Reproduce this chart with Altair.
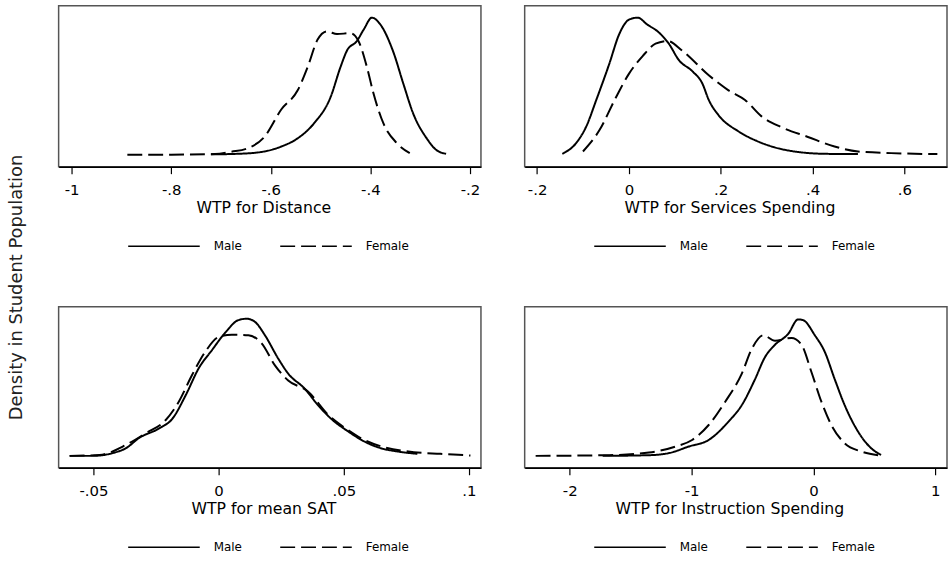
import altair as alt
import pandas as pd

FONT = "DejaVu Sans"

# ---- WTP for Distance ----
dist_m_x = [-0.72, -0.66, -0.613, -0.579, -0.546, -0.513, -0.48, -0.46, -0.447, -0.427, -0.413, -0.397, -0.38, -0.354, -0.334, -0.314, -0.287, -0.268, -0.248]
dist_m_y = [0.003, 0.008, 0.024, 0.06, 0.12, 0.23, 0.42, 0.64, 0.76, 0.83, 0.916, 1.0, 0.95, 0.75, 0.52, 0.30, 0.12, 0.036, 0.007]
dist_f_x = [-0.888, -0.80, -0.712, -0.679, -0.646, -0.613, -0.579, -0.546, -0.526, -0.506, -0.487, -0.467, -0.44, -0.424, -0.407, -0.394, -0.374, -0.347, -0.321]
dist_f_y = [0.0, 0.001, 0.005, 0.022, 0.048, 0.13, 0.33, 0.47, 0.64, 0.84, 0.90, 0.88, 0.887, 0.83, 0.64, 0.45, 0.23, 0.085, 0.012]

# ---- WTP for Services Spending ----
serv_m_x = [-0.145, -0.115, -0.093, -0.071, -0.043, -0.021, 0.0, 0.019, 0.040, 0.066, 0.087, 0.109, 0.138, 0.160, 0.174, 0.195, 0.239, 0.282, 0.340, 0.427, 0.499]
serv_m_y = [0.007, 0.085, 0.205, 0.40, 0.66, 0.88, 0.985, 1.0, 0.95, 0.89, 0.81, 0.69, 0.61, 0.52, 0.40, 0.29, 0.17, 0.096, 0.036, 0.007, 0.005]
serv_f_x = [-0.100, -0.064, -0.028, 0.0, 0.030, 0.058, 0.084, 0.116, 0.174, 0.217, 0.253, 0.289, 0.333, 0.390, 0.448, 0.499, 0.571, 0.672]
serv_f_y = [0.024, 0.18, 0.42, 0.59, 0.72, 0.81, 0.83, 0.76, 0.58, 0.47, 0.40, 0.28, 0.20, 0.13, 0.06, 0.024, 0.012, 0.005]

# ---- WTP for mean SAT ----
sat_m_x = [-0.0595, -0.0503, -0.0424, -0.037, -0.0318, -0.0238, -0.0185, -0.0132, -0.0079, -0.0027, 0.0027, 0.0079, 0.0112, 0.0146, 0.0185, 0.0238, 0.0278, 0.0344, 0.0397, 0.045, 0.0516, 0.0582, 0.0648, 0.0715, 0.0794]
sat_m_y = [0.0, 0.0, 0.02, 0.056, 0.13, 0.20, 0.27, 0.44, 0.64, 0.77, 0.90, 0.99, 1.0, 0.976, 0.88, 0.71, 0.60, 0.49, 0.37, 0.27, 0.18, 0.105, 0.056, 0.032, 0.015]
sat_f_x = [-0.0595, -0.0476, -0.037, -0.0291, -0.0212, -0.0159, -0.0106, -0.0053, 0.0, 0.0053, 0.0119, 0.0172, 0.0225, 0.0278, 0.0357, 0.0437, 0.0516, 0.0582, 0.0661, 0.078, 0.0886, 0.1006]
sat_f_y = [0.0, 0.007, 0.08, 0.165, 0.26, 0.395, 0.59, 0.76, 0.867, 0.884, 0.88, 0.82, 0.66, 0.55, 0.47, 0.30, 0.19, 0.116, 0.063, 0.027, 0.015, 0.003]

# ---- WTP for Instruction Spending ----
inst_m_x = [-1.73, -1.35, -1.187, -1.024, -0.86, -0.697, -0.588, -0.479, -0.398, -0.316, -0.207, -0.126, -0.085, 0.011, 0.092, 0.174, 0.256, 0.364, 0.473, 0.555]
inst_m_y = [0.0, 0.005, 0.02, 0.068, 0.116, 0.25, 0.37, 0.56, 0.72, 0.81, 0.89, 0.995, 0.99, 0.88, 0.76, 0.56, 0.37, 0.18, 0.056, 0.007]
inst_f_x = [-2.28, -1.677, -1.35, -1.132, -0.996, -0.86, -0.724, -0.588, -0.506, -0.411, -0.316, -0.180, -0.098, -0.016, 0.065, 0.147, 0.256, 0.392, 0.541]
inst_f_y = [0.0, 0.005, 0.024, 0.068, 0.116, 0.225, 0.395, 0.60, 0.78, 0.88, 0.84, 0.86, 0.81, 0.61, 0.395, 0.225, 0.092, 0.032, 0.003]

groups = ["Male", "Female"]

titles = ["WTP for Distance", "WTP for Services Spending", "WTP for mean SAT", "WTP for Instruction Spending"]
domains = [[-1.026, -0.178], [-0.227, 0.693], [-0.0639, 0.1048], [-2.37, 1.096]]
ticks = [[-1, -0.8, -0.6, -0.4, -0.2], [-0.2, 0, 0.2, 0.4, 0.6], [-0.05, 0, 0.05, 0.1], [-2, -1, 0, 1]]


def make_df(mx, my, fx, fy):
    return pd.DataFrame({
        "x": mx + fx,
        "y": my + fy,
        "g": [groups[0]] * len(mx) + [groups[1]] * len(fx),
        "o": list(range(len(mx))) + list(range(len(fx))),
    })


def panel(df, title, dom, tv):
    return alt.Chart(df).mark_line(color="black", strokeWidth=2, interpolate="monotone").encode(
        x=alt.X("x:Q",
                scale=alt.Scale(domain=dom, nice=False, zero=False),
                axis=alt.Axis(values=tv, title=title,
                              labelExpr="datum.value == 0 ? '0' : replace('' + datum.value, '0.', '.')")),
        y=alt.Y("y:Q", scale=alt.Scale(domain=[-0.087, 1.087], nice=False, zero=False), axis=None),
        strokeDash=alt.StrokeDash(
            "g:N",
            scale=alt.Scale(domain=groups, range=[[1, 0], [15, 6]]),
            legend=alt.Legend(title=None, orient="none", legendX=69, legendY=205,
                              direction="horizontal", symbolType="stroke", symbolSize=5184,
                              symbolStrokeWidth=1.5, symbolStrokeColor="black",
                              labelFont=FONT, labelFontSize=12, labelColor="black",
                              labelOffset=13, columnPadding=35, padding=0),
        ),
        order="o:Q",
    ).properties(width=425, height=162)


dfs = [make_df(dist_m_x, dist_m_y, dist_f_x, dist_f_y),
       make_df(serv_m_x, serv_m_y, serv_f_x, serv_f_y),
       make_df(sat_m_x, sat_m_y, sat_f_x, sat_f_y),
       make_df(inst_m_x, inst_m_y, inst_f_x, inst_f_y)]

p = [panel(dfs[i], titles[i], domains[i], ticks[i]) for i in range(4)]

chart = alt.concat(
    *p, columns=2, spacing=alt.RowColnumber(row=141, column=44), bounds="flush"
).resolve_scale(
    x="independent", strokeDash="independent"
).resolve_legend(strokeDash="independent").properties(
    title=alt.TitleParams("Density in Student Population", orient="left", anchor="middle",
                          font=FONT, fontSize=18, fontWeight="normal", color="#222",
                          offset=32, dx=-8),
    padding={"left": 8, "top": 3, "right": 0, "bottom": 0},
    background="white",
).configure_view(stroke="#555", strokeWidth=1.5).configure_axis(
    domainColor="black", domainWidth=1.6, tickColor="black", tickSize=7, tickWidth=1.2,
    labelFont=FONT, labelFontSize=15, labelColor="black", labelBaseline="alphabetic",
    labelPadding=21, labelFlush=False, labelOverlap=False, labelBound=False,
    titleFont=FONT, titleFontSize=15.8, titleFontWeight="normal", titleColor="black",
    titleBaseline="alphabetic", titleX=206, titleY=46, titleAlign="center", grid=False,
)

chart.save("out.html", embed_options={"renderer": "svg", "actions": False})
